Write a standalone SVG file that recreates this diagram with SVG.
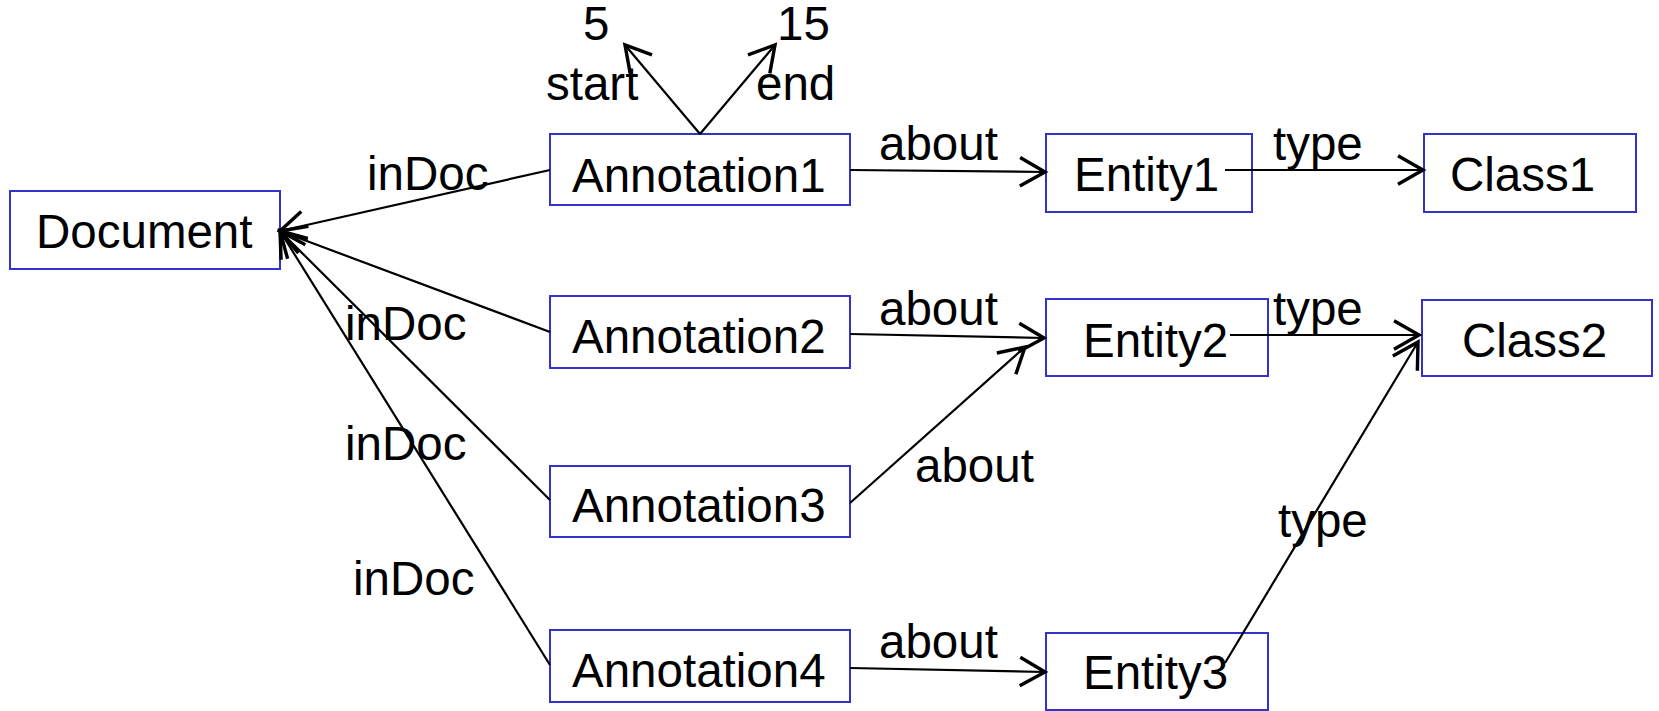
<svg xmlns="http://www.w3.org/2000/svg" width="1659" height="711" viewBox="0 0 1659 711">
  <style>
    .box { fill: #ffffff; stroke: #3333cc; stroke-width: 2; }
    .txt { font-family: "Liberation Sans", Arial, sans-serif; font-size: 47.5px; fill: #000000; }
    .edge { fill: none; stroke: #000000; stroke-width: 2.2; marker-end: url(#open); }
  </style>
  <defs>
    <marker id="open" markerUnits="userSpaceOnUse" markerWidth="40" markerHeight="40" viewBox="-22 -14 26 28" refX="0" refY="0" orient="auto">
      <path d="M -17.5 -10 L 0 0 L -17.5 10" fill="none" stroke="#000000" stroke-width="2.4" stroke-linejoin="miter"/>
    </marker>
  </defs>
  <rect width="1659" height="711" fill="#ffffff"/>

  <g id="Document">
    <rect class="box" x="10" y="191" width="270" height="78"/>
    <text class="txt" x="36" y="248">Document</text>
  </g>
  <g id="Annotation1">
    <rect class="box" x="550" y="134" width="300" height="71"/>
    <text class="txt" x="572" y="192">Annotation1</text>
  </g>
  <g id="Annotation2">
    <rect class="box" x="550" y="296" width="300" height="72"/>
    <text class="txt" x="572" y="353">Annotation2</text>
  </g>
  <g id="Annotation3">
    <rect class="box" x="550" y="466" width="300" height="71"/>
    <text class="txt" x="572" y="522">Annotation3</text>
  </g>
  <g id="Annotation4">
    <rect class="box" x="550" y="630" width="300" height="72"/>
    <text class="txt" x="572" y="687">Annotation4</text>
  </g>
  <g id="Entity1">
    <rect class="box" x="1046" y="134" width="206" height="78"/>
    <text class="txt" x="1074" y="191">Entity1</text>
  </g>
  <g id="Entity2">
    <rect class="box" x="1046" y="299" width="222" height="77"/>
    <text class="txt" x="1083" y="357">Entity2</text>
  </g>
  <g id="Entity3">
    <rect class="box" x="1046" y="633" width="222" height="77"/>
    <text class="txt" x="1083" y="689">Entity3</text>
  </g>
  <g id="Class1">
    <rect class="box" x="1424" y="134" width="212" height="78"/>
    <text class="txt" x="1450" y="191">Class1</text>
  </g>
  <g id="Class2">
    <rect class="box" x="1422" y="300" width="230" height="76"/>
    <text class="txt" x="1462" y="357">Class2</text>
  </g>

  <g id="connectors">
    <!-- inDoc edges -->
    <line class="edge" x1="550" y1="170" x2="280" y2="231"/>
    <line class="edge" x1="550" y1="332" x2="280" y2="231"/>
    <line class="edge" x1="550" y1="500" x2="280" y2="231"/>
    <line class="edge" x1="550" y1="665" x2="280" y2="231"/>
    <!-- start / end literals -->
    <line class="edge" x1="700" y1="134" x2="625" y2="45"/>
    <line class="edge" x1="700" y1="134" x2="775" y2="45"/>
    <!-- about edges -->
    <line class="edge" x1="850" y1="170" x2="1045" y2="172"/>
    <line class="edge" x1="850" y1="334" x2="1044" y2="338"/>
    <line class="edge" x1="850" y1="503" x2="1025" y2="347"/>
    <line class="edge" x1="850" y1="668" x2="1045" y2="672"/>
    <!-- type edges -->
    <line class="edge" x1="1225" y1="170" x2="1423" y2="170"/>
    <line class="edge" x1="1230" y1="335" x2="1419" y2="335"/>
    <line class="edge" x1="1225" y1="663" x2="1418" y2="342"/>

    <!-- edge labels -->
    <text class="txt" x="367" y="190">inDoc</text>
    <text class="txt" x="345" y="340">inDoc</text>
    <text class="txt" x="345" y="460">inDoc</text>
    <text class="txt" x="353" y="595">inDoc</text>
    <text class="txt" x="583" y="40">5</text>
    <text class="txt" x="777" y="40">15</text>
    <text class="txt" x="546" y="100">start</text>
    <text class="txt" x="756" y="100">end</text>
    <text class="txt" x="879" y="160">about</text>
    <text class="txt" x="879" y="325">about</text>
    <text class="txt" x="915" y="482">about</text>
    <text class="txt" x="879" y="658">about</text>
    <text class="txt" x="1273" y="160">type</text>
    <text class="txt" x="1273" y="325">type</text>
    <text class="txt" x="1278" y="537">type</text>
  </g>
</svg>
